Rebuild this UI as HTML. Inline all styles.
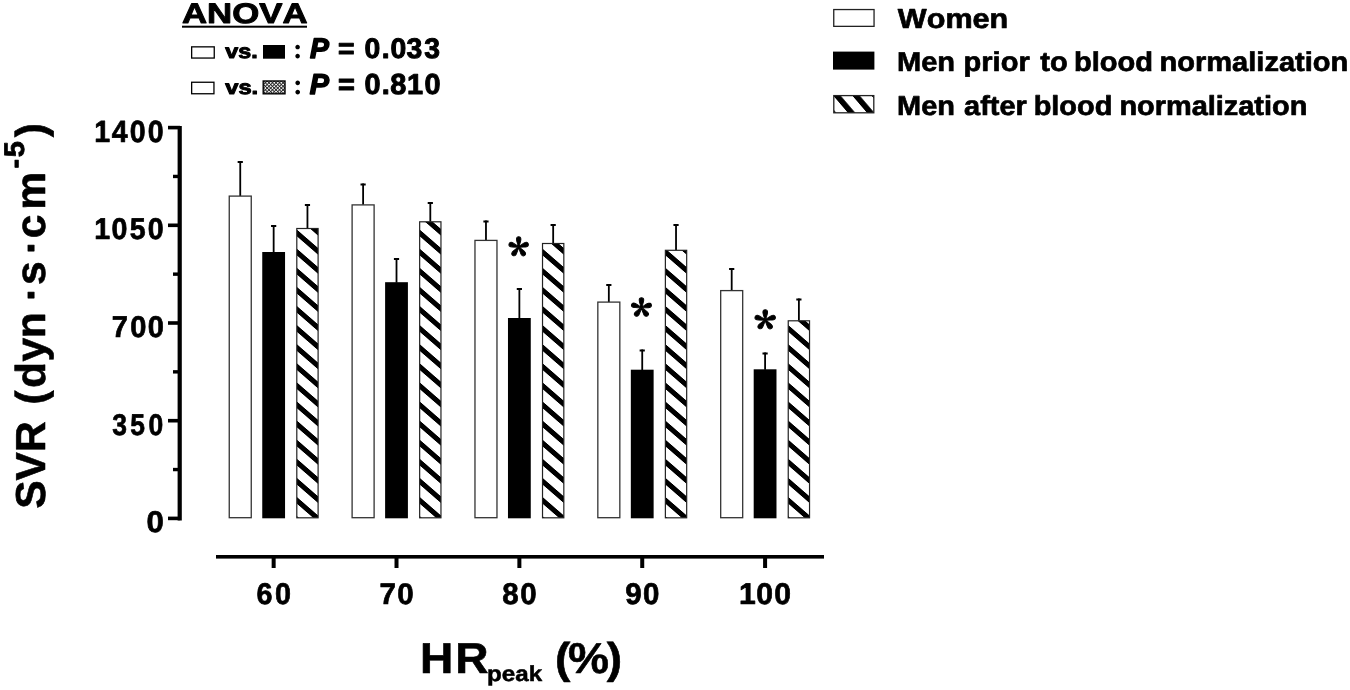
<!DOCTYPE html>
<html><head><meta charset="utf-8"><title>SVR chart</title>
<style>
html,body{margin:0;padding:0;background:#fff;}
svg{display:block;}
text{font-family:"Liberation Sans",Arial,sans-serif;fill:#000;font-kerning:none;font-variant-ligatures:none;text-rendering:geometricPrecision;}
</style></head>
<body>
<svg width="1350" height="690" viewBox="0 0 1350 690">
<rect width="1350" height="690" fill="#fff"/>

<defs>
 <pattern id="hatch" patternUnits="userSpaceOnUse" width="400" height="19.1" patternTransform="translate(0,248.2) skewY(41)">
  <rect x="0" y="0" width="400" height="6.7" fill="#000"/>
 </pattern>
 <pattern id="hatchL" patternUnits="userSpaceOnUse" width="19.1" height="400" patternTransform="translate(833.2,95.6) skewX(40.5)">
  <rect x="0" y="0" width="7.4" height="400" fill="#000"/>
 </pattern>
 <pattern id="fine" patternUnits="userSpaceOnUse" width="2.5" height="2.5" patternTransform="translate(263,81) rotate(-45)">
  <rect width="2.5" height="2.5" fill="#fff"/>
  <rect width="0.9" height="2.5" fill="#222"/>
  <rect width="2.5" height="0.9" fill="#222"/>
 </pattern>
</defs>

<rect x="177.6" y="126" width="4.2" height="394.5" fill="#000"/>
<rect x="168" y="516.60" width="12" height="3.6" fill="#000"/>
<rect x="168" y="418.90" width="12" height="3.6" fill="#000"/>
<rect x="168" y="321.20" width="12" height="3.6" fill="#000"/>
<rect x="168" y="223.50" width="12" height="3.6" fill="#000"/>
<rect x="168" y="125.80" width="12" height="3.6" fill="#000"/>
<rect x="173" y="467.85" width="7" height="3.4" fill="#000"/>
<rect x="173" y="370.15" width="7" height="3.4" fill="#000"/>
<rect x="173" y="272.45" width="7" height="3.4" fill="#000"/>
<rect x="173" y="174.75" width="7" height="3.4" fill="#000"/>
<rect x="216" y="555" width="608" height="3.6" fill="#000"/>
<rect x="271.65" y="556" width="4" height="12" fill="#000"/>
<rect x="394.51" y="556" width="4" height="12" fill="#000"/>
<rect x="517.37" y="556" width="4" height="12" fill="#000"/>
<rect x="640.23" y="556" width="4" height="12" fill="#000"/>
<rect x="763.09" y="556" width="4" height="12" fill="#000"/>
<rect x="239.35" y="161.00" width="1.8" height="35.00" fill="#000"/>
<rect x="237.65" y="161.00" width="5.2" height="2" fill="#000"/>
<rect x="229.25" y="196.10" width="22.00" height="321.60" fill="#fff" stroke="#333" stroke-width="1.3"/>
<rect x="272.75" y="225.00" width="1.8" height="27.50" fill="#000"/>
<rect x="271.05" y="225.00" width="5.2" height="2" fill="#000"/>
<rect x="262.25" y="252.00" width="22.80" height="266.30" fill="#000"/>
<rect x="306.55" y="204.00" width="1.8" height="24.50" fill="#000"/>
<rect x="304.85" y="204.00" width="5.2" height="2" fill="#000"/>
<g transform="translate(296.30,0)"><rect x="0.5" y="228.50" width="21.30" height="289.30" fill="#fff"/><rect x="0.5" y="228.50" width="21.30" height="289.30" fill="url(#hatch)" stroke="#222" stroke-width="1.2"/></g>
<rect x="362.21" y="183.50" width="1.8" height="21.30" fill="#000"/>
<rect x="360.51" y="183.50" width="5.2" height="2" fill="#000"/>
<rect x="352.11" y="204.90" width="22.00" height="312.80" fill="#fff" stroke="#333" stroke-width="1.3"/>
<rect x="395.61" y="258.00" width="1.8" height="24.70" fill="#000"/>
<rect x="393.91" y="258.00" width="5.2" height="2" fill="#000"/>
<rect x="385.11" y="282.20" width="22.80" height="236.10" fill="#000"/>
<rect x="429.41" y="202.00" width="1.8" height="19.80" fill="#000"/>
<rect x="427.71" y="202.00" width="5.2" height="2" fill="#000"/>
<g transform="translate(419.16,0)"><rect x="0.5" y="221.80" width="21.30" height="296.00" fill="#fff"/><rect x="0.5" y="221.80" width="21.30" height="296.00" fill="url(#hatch)" stroke="#222" stroke-width="1.2"/></g>
<rect x="485.07" y="220.50" width="1.8" height="19.80" fill="#000"/>
<rect x="483.37" y="220.50" width="5.2" height="2" fill="#000"/>
<rect x="474.97" y="240.40" width="22.00" height="277.30" fill="#fff" stroke="#333" stroke-width="1.3"/>
<rect x="518.47" y="288.00" width="1.8" height="30.50" fill="#000"/>
<rect x="516.77" y="288.00" width="5.2" height="2" fill="#000"/>
<rect x="507.97" y="318.00" width="22.80" height="200.30" fill="#000"/>
<rect x="552.27" y="224.00" width="1.8" height="19.50" fill="#000"/>
<rect x="550.57" y="224.00" width="5.2" height="2" fill="#000"/>
<g transform="translate(542.02,0)"><rect x="0.5" y="243.50" width="21.30" height="274.30" fill="#fff"/><rect x="0.5" y="243.50" width="21.30" height="274.30" fill="url(#hatch)" stroke="#222" stroke-width="1.2"/></g>
<rect x="607.93" y="284.00" width="1.8" height="18.00" fill="#000"/>
<rect x="606.23" y="284.00" width="5.2" height="2" fill="#000"/>
<rect x="597.83" y="302.10" width="22.00" height="215.60" fill="#fff" stroke="#333" stroke-width="1.3"/>
<rect x="641.33" y="349.50" width="1.8" height="20.70" fill="#000"/>
<rect x="639.63" y="349.50" width="5.2" height="2" fill="#000"/>
<rect x="630.83" y="369.70" width="22.80" height="148.60" fill="#000"/>
<rect x="675.13" y="224.00" width="1.8" height="26.30" fill="#000"/>
<rect x="673.43" y="224.00" width="5.2" height="2" fill="#000"/>
<g transform="translate(664.88,0)"><rect x="0.5" y="250.30" width="21.30" height="267.50" fill="#fff"/><rect x="0.5" y="250.30" width="21.30" height="267.50" fill="url(#hatch)" stroke="#222" stroke-width="1.2"/></g>
<rect x="730.79" y="268.00" width="1.8" height="22.50" fill="#000"/>
<rect x="729.09" y="268.00" width="5.2" height="2" fill="#000"/>
<rect x="720.69" y="290.60" width="22.00" height="227.10" fill="#fff" stroke="#333" stroke-width="1.3"/>
<rect x="764.19" y="352.50" width="1.8" height="17.30" fill="#000"/>
<rect x="762.49" y="352.50" width="5.2" height="2" fill="#000"/>
<rect x="753.69" y="369.30" width="22.80" height="149.00" fill="#000"/>
<rect x="797.99" y="298.50" width="1.8" height="22.30" fill="#000"/>
<rect x="796.29" y="298.50" width="5.2" height="2" fill="#000"/>
<g transform="translate(787.74,0)"><rect x="0.5" y="320.80" width="21.30" height="197.00" fill="#fff"/><rect x="0.5" y="320.80" width="21.30" height="197.00" fill="url(#hatch)" stroke="#222" stroke-width="1.2"/></g>
<text transform="translate(508.31,273.2) scale(0.9816,1)" x="0" y="0"><tspan style='font-family:"Noto Serif CJK SC",serif;font-weight:900;font-style:normal' font-size="43.41" stroke="#000" stroke-width="0.9" stroke-linejoin="round">*</tspan></text>
<text transform="translate(630.79,333.25) scale(1.0337,1)" x="0" y="0"><tspan style='font-family:"Noto Serif CJK SC",serif;font-weight:900;font-style:normal' font-size="42.27" stroke="#000" stroke-width="0.9" stroke-linejoin="round">*</tspan></text>
<text transform="translate(754.28,345.7) scale(1.0316,1)" x="0" y="0"><tspan style='font-family:"Noto Serif CJK SC",serif;font-weight:900;font-style:normal' font-size="43.41" stroke="#000" stroke-width="0.9" stroke-linejoin="round">*</tspan></text>
<text transform="translate(94.13,141.84) scale(0.9299,1)" x="0" y="0"><tspan style='font-family:"Liberation Sans",Arial,sans-serif;font-weight:bold;font-style:normal' font-size="30.7" dx="0 1.84 2.2 2.32" stroke="#000" stroke-width="0.7" stroke-linejoin="round">1400</tspan></text>
<text transform="translate(94.13,239.35) scale(0.9517,1)" x="0" y="0"><tspan style='font-family:"Liberation Sans",Arial,sans-serif;font-weight:bold;font-style:normal' font-size="30" dx="0 1.68 2.45 2.08" stroke="#000" stroke-width="0.7" stroke-linejoin="round">1050</tspan></text>
<text transform="translate(111.69,336.85) scale(0.9684,1)" x="0" y="0"><tspan style='font-family:"Liberation Sans",Arial,sans-serif;font-weight:bold;font-style:normal' font-size="30" dx="0 2.45 1.42" stroke="#000" stroke-width="0.7" stroke-linejoin="round">700</tspan></text>
<text transform="translate(112.29,434.85) scale(0.8821,1)" x="0" y="0"><tspan style='font-family:"Liberation Sans",Arial,sans-serif;font-weight:bold;font-style:normal' font-size="30" dx="0 3.81 3.83" stroke="#000" stroke-width="0.7" stroke-linejoin="round">350</tspan></text>
<text transform="translate(146.6,532.35) scale(1.0386,1)" x="0" y="0"><tspan style='font-family:"Liberation Sans",Arial,sans-serif;font-weight:bold;font-style:normal' font-size="30" stroke="#000" stroke-width="0.7" stroke-linejoin="round">0</tspan></text>
<text transform="translate(256.52,604.35) scale(0.9583,1)" x="0" y="0"><tspan style='font-family:"Liberation Sans",Arial,sans-serif;font-weight:bold;font-style:normal' font-size="30" dx="0 2.65" stroke="#000" stroke-width="0.7" stroke-linejoin="round">60</tspan></text>
<text transform="translate(379.54,604.35) scale(0.9953,1)" x="0" y="0"><tspan style='font-family:"Liberation Sans",Arial,sans-serif;font-weight:bold;font-style:normal' font-size="29.72" dx="0 1.34" stroke="#000" stroke-width="0.7" stroke-linejoin="round">70</tspan></text>
<text transform="translate(502.32,604.35) scale(0.9828,1)" x="0" y="0"><tspan style='font-family:"Liberation Sans",Arial,sans-serif;font-weight:bold;font-style:normal' font-size="30" dx="0 1.66" stroke="#000" stroke-width="0.7" stroke-linejoin="round">80</tspan></text>
<text transform="translate(625.22,604.35) scale(0.9826,1)" x="0" y="0"><tspan style='font-family:"Liberation Sans",Arial,sans-serif;font-weight:bold;font-style:normal' font-size="30" dx="0 1.52" stroke="#000" stroke-width="0.7" stroke-linejoin="round">90</tspan></text>
<text transform="translate(738.92,604.35) scale(1.0035,1)" x="0" y="0"><tspan style='font-family:"Liberation Sans",Arial,sans-serif;font-weight:bold;font-style:normal' font-size="30" dx="0 0.52 1.29" stroke="#000" stroke-width="0.7" stroke-linejoin="round">100</tspan></text>
<text transform="translate(419.9,672.5) scale(1.0715,1)" x="0" y="0"><tspan style='font-family:"Liberation Sans",Arial,sans-serif;font-weight:bold;font-style:normal' font-size="43.04" dx="0 1.87" stroke="#000" stroke-width="0.6" stroke-linejoin="round">HR</tspan><tspan style='font-family:"Liberation Sans",Arial,sans-serif;font-weight:bold;font-style:normal' font-size="21.66" dx="-1.3" dy="8.3" textLength="51.397" lengthAdjust="spacingAndGlyphs" stroke="#000" stroke-width="0.5" stroke-linejoin="round">peak</tspan><tspan style='font-family:"Liberation Sans",Arial,sans-serif;font-weight:bold;font-style:normal' font-size="43.04" dx="0 0.07 -2.34 -2.05" dy="-8.3" stroke="#000" stroke-width="0.6" stroke-linejoin="round"> (%)</tspan></text>
<text transform="rotate(-90) translate(-508.78,45.48) scale(1.0162,1)" x="0" y="0"><tspan style='font-family:"Liberation Sans",Arial,sans-serif;font-weight:bold;font-style:normal' font-size="41.83" dx="0 0 0 0 4.98 2.41 0.3 -0.4 0 -0.4 0 -9.87 0 -4.34 0 -10.04 4.62" stroke="#000" stroke-width="0.6" stroke-linejoin="round">SVR (dyn · s · cm</tspan><tspan style='font-family:"Liberation Sans",Arial,sans-serif;font-weight:bold;font-style:normal' font-size="28.45" dx="3.49 1.54" dy="-21.7" stroke="#000" stroke-width="0.8" stroke-linejoin="round">-5</tspan><tspan style='font-family:"Liberation Sans",Arial,sans-serif;font-weight:bold;font-style:normal' font-size="41.83" dx="4.03" dy="21.7" stroke="#000" stroke-width="0.6" stroke-linejoin="round">)</tspan></text>
<text transform="translate(181.98,22.87) scale(1.2281,1)" x="0" y="0"><tspan style='font-family:"Liberation Sans",Arial,sans-serif;font-weight:bold;font-style:normal' font-size="28.31" stroke="#000" stroke-width="0.9" stroke-linejoin="round">ANOVA</tspan></text>
<rect x="182" y="25.7" width="125" height="2" fill="#000"/>
<rect x="191.65" y="46.85" width="22.6" height="11.2" fill="#fff" stroke="#000" stroke-width="1.3"/>
<text transform="translate(225.28,58) scale(1.1742,1)" x="0" y="0"><tspan style='font-family:"Liberation Sans",Arial,sans-serif;font-weight:bold;font-style:normal' font-size="19.82" stroke="#000" stroke-width="1" stroke-linejoin="round">vs.</tspan></text>
<rect x="263" y="45" width="22" height="13.7" fill="#000"/>
<text transform="translate(293.1,57.82) scale(1.0000,1)" x="0" y="0"><tspan style='font-family:"Liberation Serif",serif;font-weight:bold;font-style:normal' font-size="28.31">:</tspan><tspan style='font-family:"Liberation Sans",Arial,sans-serif;font-weight:bold;font-style:normal' font-size="28.31"> </tspan><tspan style='font-family:"Liberation Sans",Arial,sans-serif;font-weight:bold;font-style:italic' font-size="28.31" dx="-0.43" stroke="#000" stroke-width="1.5" stroke-linejoin="round">P</tspan><tspan style='font-family:"Liberation Sans",Arial,sans-serif;font-weight:bold;font-style:normal' font-size="28.31" dx="0 1.38 0 2.04 1.5 0.71 0.48 1.89" stroke="#000" stroke-width="1" stroke-linejoin="round"> = 0.033</tspan></text>
<rect x="191.65" y="82.25" width="22.3" height="11.5" fill="#fff" stroke="#000" stroke-width="1.3"/>
<text transform="translate(225.28,93.7) scale(1.1934,1)" x="0" y="0"><tspan style='font-family:"Liberation Sans",Arial,sans-serif;font-weight:bold;font-style:normal' font-size="19.82" stroke="#000" stroke-width="1" stroke-linejoin="round">vs.</tspan></text>
<rect x="263.2" y="81" width="21.8" height="12.8" fill="url(#fine)" stroke="#000" stroke-width="1.4"/>
<text transform="translate(293.01,93.81) scale(1.0000,1)" x="0" y="0"><tspan style='font-family:"Liberation Serif",serif;font-weight:bold;font-style:normal' font-size="28.87">:</tspan><tspan style='font-family:"Liberation Sans",Arial,sans-serif;font-weight:bold;font-style:normal' font-size="28.87"> </tspan><tspan style='font-family:"Liberation Sans",Arial,sans-serif;font-weight:bold;font-style:italic' font-size="28.87" dx="-0.88" stroke="#000" stroke-width="1.5" stroke-linejoin="round">P</tspan><tspan style='font-family:"Liberation Sans",Arial,sans-serif;font-weight:bold;font-style:normal' font-size="28.87" dx="0 0.88 0 1.56 1.27 0.47 0.77 1.48" stroke="#000" stroke-width="1" stroke-linejoin="round"> = 0.810</tspan></text>
<rect x="833.75" y="9.55" width="40.3" height="16.8" fill="#fff" stroke="#222" stroke-width="1.3"/>
<rect x="833" y="51.6" width="41.4" height="18" fill="#000"/>
<rect x="833.8" y="95.6" width="40" height="17.2" fill="#fff"/>
<rect x="833.8" y="95.6" width="40" height="17.2" fill="url(#hatchL)" stroke="#222" stroke-width="1.3"/>
<text transform="translate(897.85,28.17) scale(1.1095,1)" x="0" y="0"><tspan style='font-family:"Liberation Sans",Arial,sans-serif;font-weight:bold;font-style:normal' font-size="27.57" stroke="#000" stroke-width="0.7" stroke-linejoin="round">Women</tspan></text>
<text transform="translate(897,70.75) scale(1.0653,1)" x="0" y="0"><tspan style='font-family:"Liberation Sans",Arial,sans-serif;font-weight:bold;font-style:normal' font-size="27.25" dx="0 0 0 0 0.38 0 0 0 0 0 2.33 0 0 -1.69 0 0 0 0 0 -1.44" stroke="#000" stroke-width="0.7" stroke-linejoin="round">Men prior to blood normalization</tspan></text>
<text transform="translate(897.09,114.55) scale(1.0564,1)" x="0" y="0"><tspan style='font-family:"Liberation Sans",Arial,sans-serif;font-weight:bold;font-style:normal' font-size="27.39" dx="0 0 0 0 1.01 0 0 0 0 0 -1.12 0 0 0 0 0 -0.99" stroke="#000" stroke-width="0.7" stroke-linejoin="round">Men after blood normalization</tspan></text>
</svg>
</body></html>
